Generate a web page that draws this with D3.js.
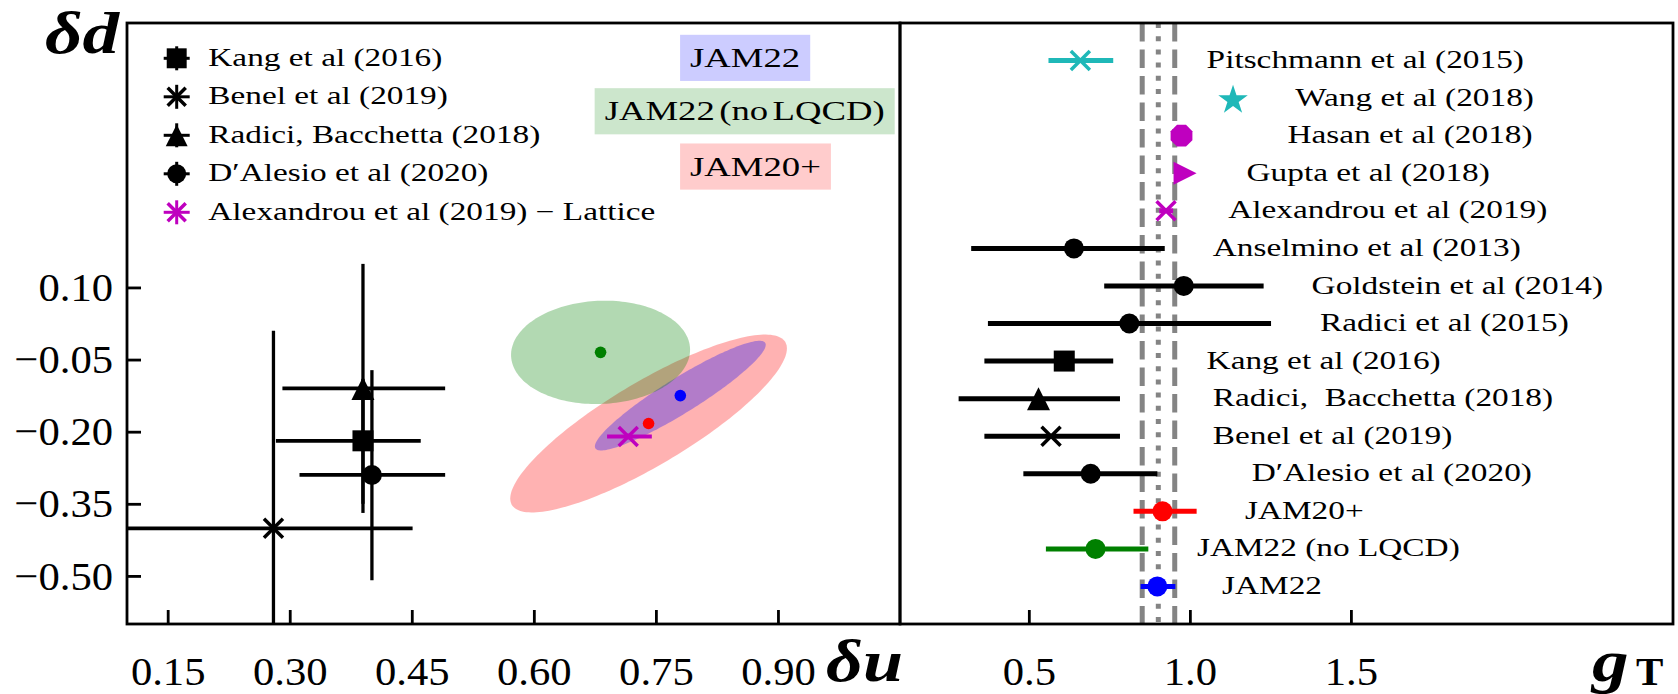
<!DOCTYPE html>
<html><head><meta charset="utf-8">
<script src="https://cdn.jsdelivr.net/npm/d3@7"></script>
<style>
html,body{margin:0;padding:0;background:#fff;}
svg{display:block;}
text{font-family:"Liberation Serif","Times New Roman",serif;fill:#000;}
</style></head><body>
<svg id="chart" width="1678" height="694"></svg>
<script>
// ================= DATA =================
// left panel: delta u vs delta d (phenomenology points)
const leftLabels = ["Kang et al (2016)", "Benel et al (2019)", "Radici, Bacchetta (2018)", "D\u2032Alesio et al (2020)", "Alexandrou et al (2019) \u2212 Lattice"];
const leftU   = [0.390, 0.280, 0.390, 0.401, 0.716];
const leftUlo = [0.283, 0.099, 0.291, 0.312, 0.690];
const leftUhi = [0.461, 0.451, 0.491, 0.491, 0.745];
const leftD   = [-0.219, -0.401, -0.110, -0.290, -0.210];
const leftDlo = [-0.350, -0.810, -0.369, -0.509, -0.216];
const leftDhi = [-0.090, 0.010, 0.149, -0.072, -0.204];

// JAM confidence ellipses (centre, half extents, correlation)
const jamNames = ["JAM22", "JAM22 (no LQCD)", "JAM20+"];
const jamU    = [0.780, 0.682, 0.741];
const jamD    = [-0.125, -0.035, -0.183];
const jamSigU = [0.105, 0.110, 0.170];
const jamSigD = [0.114, 0.1075, 0.185];
const jamRho  = [0.927, 0.05, 0.843];
// annotation anchors (data coordinates)
const jamTagU = [0.792, 0.687, 0.792];
const jamTagD = [0.577, 0.466, 0.351];

const uTicks = [0.15, 0.30, 0.45, 0.60, 0.75, 0.90];
const dTicks = [0.10, -0.05, -0.20, -0.35, -0.50];

// right panel: g_T
const rightLabels = ["Pitschmann et al (2015)", "Wang et al (2018)", "Hasan et al (2018)", "Gupta et al (2018)",
  "Alexandrou et al (2019)", "Anselmino et al (2013)", "Goldstein et al (2014)", "Radici et al (2015)",
  "Kang et al (2016)", "Radici,\u00a0 Bacchetta (2018)", "Benel et al (2019)", "D\u2032Alesio et al (2020)",
  "JAM20+", "JAM22 (no LQCD)", "JAM22"];
const rightG  = [0.660, 1.134, 0.974, 0.985, 0.926, 0.640, 0.981, 0.812, 0.610, 0.530, 0.569, 0.692, 0.915, 0.707, 0.899];
const rightLo = [0.561, 1.134, 0.960, 0.975, 0.905, 0.321, 0.734, 0.373, 0.362, 0.282, 0.362, 0.483, 0.825, 0.553, 0.847];
const rightHi = [0.762, 1.134, 0.990, 0.995, 0.948, 0.922, 1.229, 1.252, 0.762, 0.783, 0.783, 0.899, 1.021, 0.871, 0.955];
const rightLabelG = [1.052, 1.327, 1.303, 1.176, 1.119, 1.071, 1.378, 1.404, 1.052, 1.071, 1.071, 1.192, 1.171, 1.022, 1.100];
const gTicks = [0.5, 1.0, 1.5];
const gBand = [0.852, 0.902, 0.953];

// ================= STYLES =================
const K = "#000", CY = "#1fb8b8", MG = "#bf00bf";
const leftMarker = ["square", "x", "triUp", "circle", "x"];
const leftColor  = [K, K, K, K, MG];
const jamColor   = ["blue", "green", "red"];
const rightMarker = ["x", "star", "oct", "triRight", "x", "circle", "circle", "circle", "square", "triUp", "x", "circle", "circle", "circle", "circle"];
const rightColor  = [CY, CY, MG, MG, MG, K, K, K, K, K, K, K, "red", "green", "blue"];

const TXT_SX = 1.36;     // horizontal stretch of the serif text
const TICK_SX = 1.04;
const TICK_FS = 41;

// ================= LAYOUT =================
const svg = d3.select("#chart");
const L = {x0: 127, x1: 900, y0: 23, y1: 624};
const R = {x0: 900, x1: 1673, y0: 23, y1: 624};
const xL = d3.scaleLinear().domain([0.1, 1.05]).range([L.x0, L.x1]);
const yL = d3.scaleLinear().domain([-0.6, 0.65]).range([L.y1, L.y0]);
const xR = d3.scaleLinear().domain([0.1, 2.5]).range([R.x0, R.x1]);
const yR = d3.scaleLinear().domain([-1, 15]).range([R.y0, R.y1]);

svg.append("defs").append("clipPath").attr("id", "clipL")
  .append("rect").attr("x", L.x0).attr("y", L.y0).attr("width", L.x1 - L.x0).attr("height", L.y1 - L.y0);
svg.select("defs").append("clipPath").attr("id", "clipR")
  .append("rect").attr("x", R.x0).attr("y", R.y0).attr("width", R.x1 - R.x0).attr("height", R.y1 - R.y0);

function stext(parent, x, y, str, size, sx, opt) {
  opt = opt || {};
  const g = parent.append("g").attr("transform", `translate(${x},${y}) scale(${sx},1)`);
  const t = g.append("text").attr("font-size", size).attr("text-anchor", opt.anchor || "start").text(str);
  if (opt.weight) t.attr("font-weight", opt.weight);
  if (opt.style) t.attr("font-style", opt.style);
  if (opt.ws) t.attr("word-spacing", opt.ws);
  return {g, t};
}

function marker(parent, type, cx, cy, color, s) {
  s = s || 1;
  if (type === "circle") {
    parent.append("circle").attr("cx", cx).attr("cy", cy).attr("r", 10 * s).attr("fill", color);
  } else if (type === "square") {
    const h = 10.5 * s;
    parent.append("rect").attr("x", cx - h).attr("y", cy - h).attr("width", 2 * h).attr("height", 2 * h).attr("fill", color);
  } else if (type === "triUp") {
    const h = 11.5 * s;
    parent.append("path").attr("d", `M${cx},${cy - h}L${cx - h},${cy + h}L${cx + h},${cy + h}Z`).attr("fill", color);
  } else if (type === "triRight") {
    const h = 11.5 * s;
    parent.append("path").attr("d", `M${cx + h},${cy}L${cx - h},${cy - h}L${cx - h},${cy + h}Z`).attr("fill", color);
  } else if (type === "x") {
    const h = 9.5 * s;
    parent.append("path").attr("d", `M${cx - h},${cy - h}L${cx + h},${cy + h}M${cx - h},${cy + h}L${cx + h},${cy - h}`)
      .attr("stroke", color).attr("stroke-width", 3.5).attr("fill", "none");
  } else if (type === "star") {
    const r = 15.5 * s;
    parent.append("path").attr("transform", `translate(${cx},${cy + 2})`)
      .attr("d", d3.symbol(d3.symbolStar, r * r / 0.8908130915292852)()).attr("fill", color);
  } else if (type === "oct") {
    const r = 11.8 * s;
    const pts = d3.range(8).map(k => { const a = Math.PI / 8 + k * Math.PI / 4; return [cx + r * Math.cos(a), cy + r * Math.sin(a)]; });
    parent.append("path").attr("d", "M" + pts.join("L") + "Z").attr("fill", color);
  }
}

// ================= LEFT PANEL =================
const gL = svg.append("g");
const plotL = gL.append("g").attr("clip-path", "url(#clipL)");

// ellipses: JAM20+, JAM22, JAM22 (no LQCD)
const ellOrder = [2, 0, 1];
const tt = d3.range(0, 2 * Math.PI, Math.PI / 90);
ellOrder.forEach(i => {
  const sq = Math.sqrt(1 - jamRho[i] * jamRho[i]);
  const pts = tt.map(t => [xL(jamU[i] + jamSigU[i] * Math.cos(t)),
                          yL(jamD[i] + jamSigD[i] * (jamRho[i] * Math.cos(t) + sq * Math.sin(t)))]);
  plotL.append("path").attr("d", d3.line().curve(d3.curveLinearClosed)(pts))
    .attr("fill", jamColor[i]).attr("fill-opacity", 0.3).attr("stroke", "none");
});
jamNames.forEach((n, i) => {
  plotL.append("circle").attr("cx", xL(jamU[i])).attr("cy", yL(jamD[i])).attr("r", 5.8).attr("fill", jamColor[i]);
});

// error bars + markers
leftLabels.forEach((lab, i) => {
  const c = leftColor[i];
  plotL.append("line").attr("x1", xL(leftUlo[i])).attr("x2", xL(leftUhi[i]))
    .attr("y1", yL(leftD[i])).attr("y2", yL(leftD[i])).attr("stroke", c).attr("stroke-width", 3.8);
  plotL.append("line").attr("x1", xL(leftU[i])).attr("x2", xL(leftU[i]))
    .attr("y1", yL(leftDlo[i])).attr("y2", yL(leftDhi[i])).attr("stroke", c).attr("stroke-width", 3.3);
});
leftLabels.forEach((lab, i) => marker(plotL, leftMarker[i], xL(leftU[i]), yL(leftD[i]), leftColor[i]));

// annotation boxes
const boxLayer = gL.append("g"), tagLayer = gL.append("g");
jamNames.forEach((n, i) => {
  const x = xL(jamTagU[i]), y = yL(jamTagD[i]) + 9;
  const o = stext(tagLayer, x, y, n, 27, TXT_SX, {ws: -3.5});
  const bb = o.t.node().getBBox();
  boxLayer.append("rect").attr("x", x + bb.x * TXT_SX - 10).attr("y", y + bb.y - 8)
    .attr("width", bb.width * TXT_SX + 20).attr("height", bb.height + 16)
    .attr("fill", jamColor[i]).attr("fill-opacity", 0.2);
});

// legend
const leg = gL.append("g");
leftLabels.forEach((lab, i) => {
  const y = 58.3 + 38.5 * i, x = 176.7, c = leftColor[i];
  leg.append("line").attr("x1", x - 13).attr("x2", x + 13).attr("y1", y).attr("y2", y).attr("stroke", c).attr("stroke-width", 3);
  leg.append("line").attr("x1", x).attr("x2", x).attr("y1", y - 12).attr("y2", y + 12).attr("stroke", c).attr("stroke-width", 3);
  marker(leg, leftMarker[i], x, y, c, 0.95);
  stext(leg, 208.3, y + 7.6, lab, 24.5, TXT_SX);
});

// axes
const axXL = gL.append("g").attr("transform", `translate(0,${L.y1})`)
  .call(d3.axisBottom(xL).tickValues(uTicks).tickFormat(d3.format(".2f")).tickSizeInner(-14).tickSizeOuter(0).tickPadding(32));
const axYL = gL.append("g").attr("transform", `translate(${L.x0},0)`)
  .call(d3.axisLeft(yL).tickValues(dTicks).tickFormat(d3.format(".2f")).tickSizeInner(-14).tickSizeOuter(0).tickPadding(14));
gL.append("rect").attr("x", L.x0).attr("y", L.y0).attr("width", L.x1 - L.x0).attr("height", L.y1 - L.y0)
  .attr("fill", "none").attr("stroke", "#000").attr("stroke-width", 2.8);

// ================= RIGHT PANEL =================
const gR = svg.append("g");
const plotR = gR.append("g").attr("clip-path", "url(#clipR)");
gBand.forEach((v, i) => {
  plotR.append("line").attr("x1", xR(v)).attr("x2", xR(v)).attr("y1", R.y0).attr("y2", R.y1)
    .attr("stroke", "#848484").attr("stroke-width", 5)
    .attr("stroke-dasharray", i === 1 ? "5,8.2" : "18.5,8");
});
rightLabels.forEach((lab, i) => {
  const y = yR(i), c = rightColor[i];
  if (rightHi[i] > rightLo[i])
    plotR.append("line").attr("x1", xR(rightLo[i])).attr("x2", xR(rightHi[i])).attr("y1", y).attr("y2", y)
      .attr("stroke", c).attr("stroke-width", 5);
  marker(plotR, rightMarker[i], xR(rightG[i]), y, c);
});
rightLabels.forEach((lab, i) => stext(gR, xR(rightLabelG[i]), yR(i) + 7.6, lab, 24.5, TXT_SX));

const axXR = gR.append("g").attr("transform", `translate(0,${R.y1})`)
  .call(d3.axisBottom(xR).tickValues(gTicks).tickFormat(d3.format(".1f")).tickSizeInner(-14).tickSizeOuter(0).tickPadding(32));
gR.append("rect").attr("x", R.x0).attr("y", R.y0).attr("width", R.x1 - R.x0).attr("height", R.y1 - R.y0)
  .attr("fill", "none").attr("stroke", "#000").attr("stroke-width", 2.8);

// style axes
[axXL, axYL, axXR].forEach(ax => {
  ax.select(".domain").remove();
  ax.selectAll(".tick line").attr("stroke", "#000").attr("stroke-width", 2.8);
  ax.selectAll(".tick text").attr("font-family", '"Liberation Serif", serif').attr("font-size", TICK_FS).attr("fill", "#000");
});
axYL.selectAll(".tick text").attr("x", -14 / TICK_SX).attr("transform", `scale(${TICK_SX},1)`);
[axXL, axXR].forEach(ax => ax.selectAll(".tick text").attr("transform", `scale(${TICK_SX},1)`));

// axis titles
stext(svg, 45, 53, "\u03b4d", 60, 1.22, {weight: "bold", style: "italic"});
stext(svg, 826, 681, "\u03b4u", 60, 1.2, {weight: "bold", style: "italic"});
stext(svg, 1592, 681, "g", 60, 1.22, {weight: "bold", style: "italic"});
stext(svg, 1636, 685, "T", 41, 1.0, {weight: "bold"});
</script>
</body></html>
